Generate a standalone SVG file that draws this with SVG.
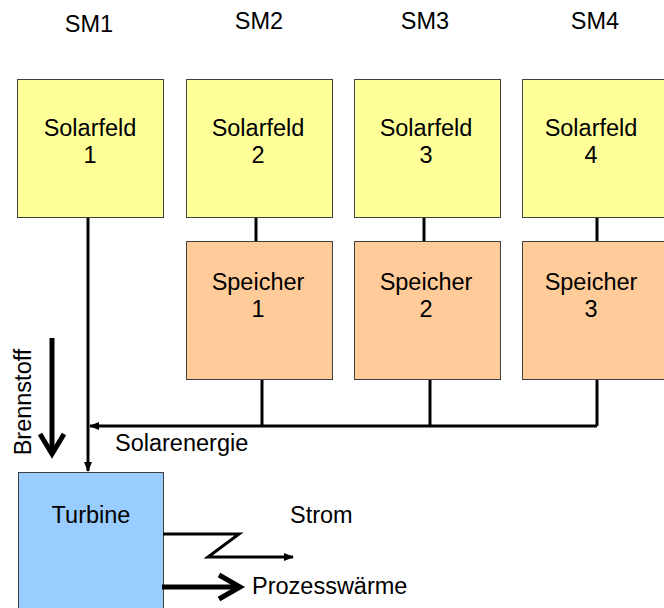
<svg xmlns="http://www.w3.org/2000/svg" width="664" height="608" viewBox="0 0 664 608">
<defs>
<style>
text{font-family:"Liberation Sans",Arial,sans-serif;font-size:23.5px;fill:#000}
.c{text-anchor:middle}
.sf{fill:#FFFF99;stroke:#404040;stroke-width:1}
.sp{fill:#FFCC99;stroke:#404040;stroke-width:1}
.tb{fill:#99CCFF;stroke:#404040;stroke-width:1}
.ln{fill:none;stroke:#000;stroke-width:3}
.thick{fill:none;stroke:#000;stroke-width:5}
</style>
<marker id="ah" markerWidth="10" markerHeight="8" refX="9" refY="4" orient="auto" markerUnits="userSpaceOnUse">
<path d="M0,0 L10,4 L0,8 Z" fill="#000"/>
</marker>
</defs>
<rect width="664" height="608" fill="#fff"/>
<g id="labels">
<text class="c" x="89" y="32">SM1</text>
<text class="c" x="259" y="29">SM2</text>
<text class="c" x="425" y="29">SM3</text>
<text class="c" x="595" y="29">SM4</text>
</g>
<g id="solarfeld1"><rect class="sf" x="17.5" y="79.5" width="146" height="138"/><text class="c" x="90" y="136">Solarfeld</text><text class="c" x="90" y="163">1</text></g>
<g id="solarfeld2"><rect class="sf" x="186.5" y="79.5" width="146" height="138"/><text class="c" x="258" y="136">Solarfeld</text><text class="c" x="258" y="163">2</text></g>
<g id="solarfeld3"><rect class="sf" x="354.5" y="79.5" width="146" height="138"/><text class="c" x="426" y="136">Solarfeld</text><text class="c" x="426" y="163">3</text></g>
<g id="solarfeld4"><rect class="sf" x="522.5" y="79.5" width="146" height="138"/><text class="c" x="591" y="136">Solarfeld</text><text class="c" x="591" y="163">4</text></g>
<g id="speicher1"><rect class="sp" x="186.5" y="241.5" width="146" height="138"/><text class="c" x="258" y="290">Speicher</text><text class="c" x="258" y="317">1</text></g>
<g id="speicher2"><rect class="sp" x="354.5" y="241.5" width="146" height="138"/><text class="c" x="426" y="290">Speicher</text><text class="c" x="426" y="317">2</text></g>
<g id="speicher3"><rect class="sp" x="522.5" y="241.5" width="146" height="138"/><text class="c" x="591" y="290">Speicher</text><text class="c" x="591" y="317">3</text></g>
<g id="turbine"><rect class="tb" x="18.5" y="472.5" width="145" height="150"/><text class="c" x="91" y="523">Turbine</text></g>
<g id="connectors">
<line class="ln" x1="256" y1="218" x2="256" y2="241"/>
<line class="ln" x1="424" y1="218" x2="424" y2="241"/>
<line class="ln" x1="597" y1="218" x2="597" y2="241"/>
<line class="ln" x1="262" y1="380" x2="262" y2="426"/>
<line class="ln" x1="430" y1="380" x2="430" y2="426"/>
<line class="ln" x1="597" y1="380" x2="597" y2="426"/>
<line class="ln" x1="597" y1="426" x2="90" y2="426" marker-end="url(#ah)"/>
<line class="ln" x1="88" y1="218" x2="88" y2="471" marker-end="url(#ah)"/>
<polyline class="ln" points="163,534 239,534 208,557 293,557" marker-end="url(#ah)"/>
<line class="thick" x1="52" y1="338" x2="52" y2="452"/>
<polyline class="thick" points="40,434 52,454 64,434"/>
<line class="thick" x1="162" y1="587" x2="238" y2="587"/>
<polyline class="thick" points="219,575 240,587 219,599"/>
</g>
<g id="texts">
<text x="115" y="451">Solarenergie</text>
<text x="290" y="523">Strom</text>
<text x="252" y="594">Prozesswärme</text>
<text class="c" transform="translate(31,402) rotate(-90)">Brennstoff</text>
</g>
</svg>
